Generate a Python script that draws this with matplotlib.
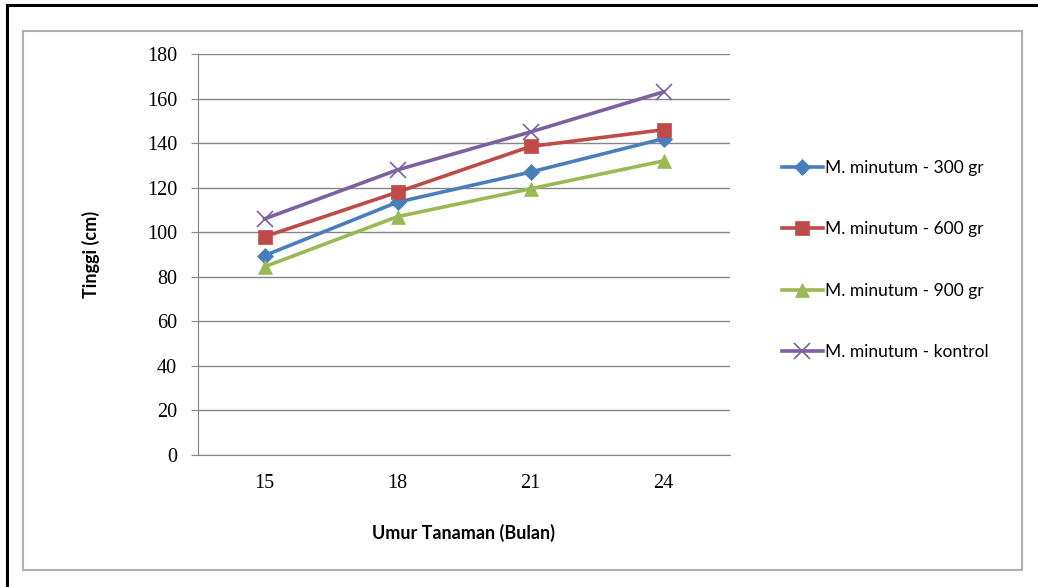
import matplotlib
matplotlib.use("Agg")
import matplotlib.pyplot as plt
from matplotlib.patches import Rectangle
from matplotlib.lines import Line2D

# data
umur = ["15", "18", "21", "24"]
m300 = [89.5, 113.5, 127, 142]
m600 = [98, 118, 138.5, 146]
m900 = [84.5, 107, 119.5, 132]
kontrol = [106, 128, 145, 163]

labels = ["M. minutum - 300 gr", "M. minutum - 600 gr",
          "M. minutum - 900 gr", "M. minutum - kontrol"]
yticks = [0, 20, 40, 60, 80, 100, 120, 140, 160, 180]

W, H = 1038, 587
fig = plt.figure(figsize=(W / 100, H / 100), dpi=100)

# outer border bits (left + top black) and the grey chart frame
fig.add_artist(Line2D([7 / W, 7 / W], [0, 1 - 5 / H], color="black", lw=2.2,
                      transform=fig.transFigure))
fig.add_artist(Line2D([7 / W, 1], [1 - 5 / H, 1 - 5 / H], color="black", lw=2.2,
                      transform=fig.transFigure))
fig.add_artist(Rectangle((23 / W, 1 - 570 / H), 999 / W, 539 / H, fill=False,
                         edgecolor="#b0b0b0", lw=1.5, transform=fig.transFigure))

ax = fig.add_axes([198 / W, 1 - 455 / H, 532 / W, 401 / H])

x = range(len(umur))
series = [
    (m300, "#4a7ebb", "D", 8),
    (m600, "#be4b48", "s", 10),
    (m900, "#98b954", "^", 10),
    (kontrol, "#7d60a0", "x", 11),
]
for vals, col, mk, ms in series:
    ax.plot(x, vals, color=col, lw=2.6, marker=mk, markersize=ms,
            markeredgewidth=1.2 if mk == "x" else 0.5, markeredgecolor=col,
            markerfacecolor=col, zorder=3)

ax.set_xlim(-0.5, 3.5)
ax.set_ylim(0, 180)
ax.set_yticks(yticks)
ax.set_xticks(list(x))
ax.set_xticklabels(umur)
ax.yaxis.grid(True, color="#868686", lw=1)
ax.set_axisbelow(True)
for s in ["top", "right"]:
    ax.spines[s].set_visible(False)
for s in ["left", "bottom"]:
    ax.spines[s].set_color("#868686")
ax.tick_params(axis="y", length=5, color="#868686", pad=10)
ax.tick_params(axis="x", length=0, pad=14)
for t in ax.get_xticklabels() + ax.get_yticklabels():
    t.set_fontfamily("Liberation Serif")
    t.set_fontsize(14.5)

ax.set_ylabel("Tinggi (cm)", fontfamily="Lato", fontweight="bold", fontsize=13, labelpad=34)
ax.set_xlabel("Umur Tanaman (Bulan)", fontfamily="Lato", fontweight="bold", fontsize=13, labelpad=22)

fig.legend(labels, loc="upper left", bbox_to_anchor=(766 / W, 1 - 144 / H),
           frameon=False, prop={"family": "Lato", "size": 12.5},
           handlelength=2.4, handletextpad=0.1, labelspacing=2.62)

plt.savefig("out.png", dpi=100)
